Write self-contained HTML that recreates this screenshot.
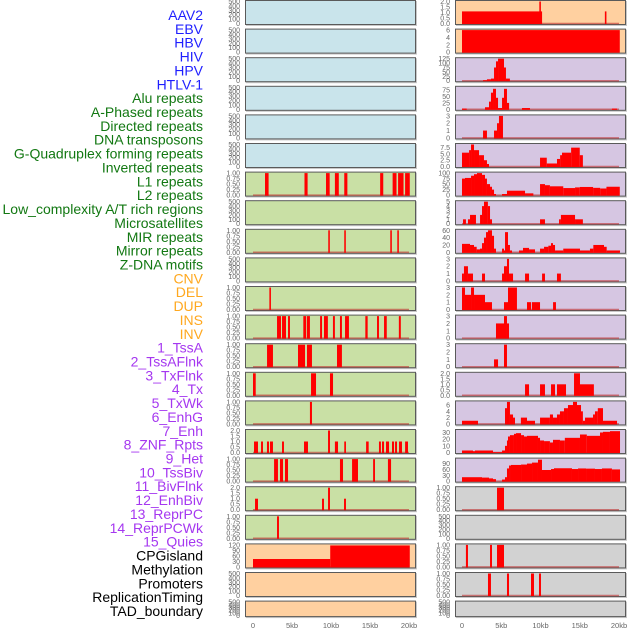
<!DOCTYPE html>
<html><head><meta charset="utf-8">
<style>
html,body{margin:0;padding:0;background:#fff;width:630px;height:630px;overflow:hidden}
svg{display:block;font-family:"Liberation Sans",sans-serif}
</style></head>
<body>
<svg id="chart" width="630" height="630" viewBox="0 0 630 630" xmlns="http://www.w3.org/2000/svg"></svg>
<script>
// ---------- data ----------
const trackLabels = ["AAV2","EBV","HBV","HIV","HPV","HTLV-1","Alu repeats","A-Phased repeats","Directed repeats","DNA transposons","G-Quadruplex forming repeats","Inverted repeats","L1 repeats","L2 repeats","Low_complexity A/T rich regions","Microsatellites","MIR repeats","Mirror repeats","Z-DNA motifs","CNV","DEL","DUP","INS","INV","1_TssA","2_TssAFlnk","3_TxFlnk","4_Tx","5_TxWk","6_EnhG","7_Enh","8_ZNF_Rpts","9_Het","10_TssBiv","11_BivFlnk","12_EnhBiv","13_ReprPC","14_ReprPCWk","15_Quies","CPGisland","Methylation","Promoters","ReplicationTiming","TAD_boundary"];
const labelGroups = [6,13,5,15,5];
const groupColors = ["#1f1fff","#127812","#ffa81f","#a537f0","#000000"];

const xTicks = [0,5,10,15,20];
const xTickLabels = ["0","5kb","10kb","15kb","20kb"];

const leftBg = ["b","b","b","b","b","b","g","g","g","g","g","g","g","g","g","g","g","g","g","o","o","o"];
const rightBg = ["o","o","p","p","p","p","p","p","p","p","p","p","p","p","p","p","p","y","y","y","y","y"];

const T500 = ["0","100","200","300","400","500"];
const T1 = ["0.00","0.25","0.50","0.75","1.00"];
const T2 = ["0.0","0.5","1.0","1.5","2.0"];
const leftMax = [500,500,500,500,500,500,1,500,1,500,1,1,1,1,1,2,1,2,1,120,500,500];
const leftTicks = [T500,T500,T500,T500,T500,T500,T1,T500,T1,T500,T1,T1,T1,T1,T1,T2,T1,T2,T1,["0","30","60","90","120"],T500,T500];
const rightMax = [2,6,125,86,3,8.75,100,5,60,3,3,3,3,2,7,33,113,1,500,1,1,500];
const rightTicks = [T2,["0","2","4","6"],["0","25","50","75","100","125"],["0","25","50","75"],["0","1","2","3"],["0.0","2.5","5.0","7.5"],["0","25","50","75","100"],["0","1","2","3","4","5"],["0","20","40","60"],["0","1","2","3"],["0","1","2","3"],["0","1","2","3"],["0","1","2","3"],T2,["0","2","4","6"],["0","10","20","30"],["0","30","60","90"],T1,T500,T1,T1,T500];

// segments: [startKb, endKb, value]
const leftSegs = [
 [],[],[],[],[],[],
 [[1.54,2.0,1],[6.6,7.0,1],[9.36,9.83,1],[10.5,11.0,1],[11.7,12.1,1],[16.3,16.7,1],[17.9,18.4,1],[18.6,19.3,1],[19.5,20.1,1]],
 [],
 [[9.65,9.85,1],[11.7,11.9,1],[17.6,17.8,1],[18.5,18.7,1]],
 [],
 [[2.1,2.3,1]],
 [[3.08,3.59,1],[3.72,4.23,1],[4.49,4.74,1],[6.45,6.8,1],[6.9,7.3,1],[8.6,8.85,1],[9.1,9.6,1],[10.25,10.5,1],[11.15,11.4,1],[11.8,12.3,1],[14.4,14.7,1],[15.9,16.15,1],[16.8,17.15,1],[18.7,18.95,1]],
 [[1.8,2.56,1],[5.77,6.67,1],[6.92,7.56,1],[10.77,11.4,1]],
 [[0,0.35,1],[7.44,8.08,1],[9.87,10.26,1]],
 [[7.3,7.56,1]],
 [[0.13,0.64,1],[1.03,1.28,1],[1.79,2.05,1],[2.18,2.56,1],[3.72,3.97,1],[6.54,7.05,1],[9.62,9.87,2],[10.5,10.9,1],[11.7,11.92,1],[14.5,14.83,1],[16.15,16.4,1],[16.54,16.8,1],[17.05,17.44,1],[17.82,18.08,1],[18.21,18.46,1],[18.72,19.1,1],[19.5,19.87,1]],
 [[2.7,3.2,1],[3.46,3.85,1],[4.1,4.49,1],[11.15,11.54,1],[12.7,13.46,1],[15.4,15.64,1],[17.3,17.7,1]],
 [[0.26,0.64,1],[8.85,9.1,1],[9.62,9.87,2],[11.67,11.92,1]],
 [[3.08,3.33,1]],
 [[0,9.9,43],[9.9,20.1,117]],
 [],[]
];
const rightSegs = [
 [[0,10.2,1.1],[9.85,10.05,2],[18.2,18.4,1.1]],
 [[0,20.1,6]],
 [[2.68,3.18,3],[3.18,3.69,8],[3.69,4.08,12],[4.08,4.33,75],[4.33,4.59,110],[4.59,5.35,125],[5.35,5.6,75],[5.6,6.1,12]],
 [[0,0.6,3],[2.93,3.44,8],[3.44,3.69,30],[3.69,3.95,65],[3.95,4.33,80],[4.33,4.59,45],[4.59,5.1,5],[5.1,5.35,45],[5.35,5.73,80],[5.73,6.0,25],[7.64,8.66,5],[19.1,19.75,3]],
 [[2.68,3.18,1],[4.08,4.46,1],[4.46,4.71,2],[4.71,5.22,3]],
 [[0,0.9,5.5],[0.9,1.15,6.5],[1.15,1.53,9],[1.53,2.17,6.5],[2.17,2.8,4.5],[2.8,3.18,2.5],[3.18,3.44,1],[9.94,10.8,3.5],[10.8,12.1,1.2],[12.1,12.5,3],[12.5,12.74,4.5],[12.74,13.9,5.5],[13.9,15.0,7.5],[15.0,15.4,4.5]],
 [[0,0.38,75],[0.38,1.15,78],[1.15,1.53,88],[1.53,1.91,95],[1.91,2.55,100],[2.55,2.93,92],[2.93,3.18,75],[3.18,3.57,50],[3.57,3.82,38],[3.82,4.08,25],[4.08,4.33,5],[5.1,5.73,5],[5.73,8.03,20],[8.03,9.09,8],[9.94,10.57,50],[10.57,11.2,45],[11.2,12.9,40],[12.9,14.4,32],[14.4,15.0,35],[15.0,16.7,37],[16.7,17.6,33],[17.6,18.4,30],[18.4,20.1,38]],
 [[0.13,0.5,1],[0.76,1.02,1],[1.02,1.78,2],[2.3,2.55,2],[2.55,2.8,4],[2.8,3.3,5],[3.3,3.57,4],[3.57,3.82,1],[9.94,10.57,1],[12.36,12.6,1],[12.6,14.4,2],[14.4,15.4,1]],
 [[0,1.02,23],[1.02,1.53,20],[1.53,1.87,15],[1.87,2.29,8],[2.29,2.55,10],[2.55,2.8,25],[2.8,3.06,40],[3.06,3.31,55],[3.31,3.82,60],[3.82,4.08,45],[4.08,4.33,10],[5.1,5.35,10],[5.35,5.48,5],[5.48,5.86,55],[5.86,6.11,20],[6.11,6.37,5],[7.26,7.77,5],[7.77,8.54,12],[8.54,9.3,8],[9.94,10.45,10],[10.45,11.0,15],[11.0,11.34,18],[11.34,11.59,25],[11.59,11.85,20],[11.85,12.9,5],[12.9,15.03,10],[15.03,16.3,5],[16.3,16.73,10],[16.73,18.09,20],[18.09,18.43,15],[18.43,20.13,5]],
 [[0,0.25,1],[0.25,0.76,2],[0.76,1.4,1],[2.55,2.93,1],[5.1,5.35,1],[5.35,5.73,2],[5.73,5.99,3],[5.99,6.5,1],[8.03,8.54,1],[10.2,10.57,1],[12.1,12.6,1]],
 [[0,0.38,3],[0.38,1.15,2],[1.15,1.53,3],[1.53,2.93,2],[2.93,3.82,1],[5.35,5.86,1],[5.86,7.0,3],[8.28,8.79,1],[8.9,9.94,1],[11.6,11.97,1]],
 [[4.33,5.35,2],[5.35,5.73,3],[5.73,5.99,2]],
 [[4.08,4.59,1],[5.35,5.73,3]],
 [[8.03,8.54,1],[9.94,10.57,1],[11.34,11.85,1],[12.1,13.25,1],[14.27,15.03,2],[15.03,16.8,1]],
 [[0,2.04,1],[5.48,5.73,5],[5.73,6.11,7],[6.11,6.5,3],[6.5,6.75,2],[7.5,8.28,2],[8.28,9.3,1],[9.94,11.2,2],[11.2,11.59,3],[11.59,12.1,2],[12.1,12.48,3],[12.48,12.99,4],[12.99,13.5,5],[13.5,14.14,6],[14.14,14.65,7],[14.65,15.16,6],[15.16,15.4,4],[15.4,15.67,1],[15.67,16.69,2],[16.69,16.94,3],[16.94,17.3,4],[17.3,17.96,5],[17.96,19.75,1]],
 [[0,1.4,3],[1.4,1.65,2],[1.65,3.95,3],[3.95,5.1,0.5],[5.1,5.48,3],[5.48,5.73,10],[5.73,5.86,18],[5.86,6.11,24],[6.11,6.62,26],[6.62,6.88,28],[6.88,7.52,29],[7.52,7.9,26],[7.9,8.28,24],[8.28,9.68,25],[9.68,9.94,22],[9.94,10.45,18],[10.45,11.2,17],[11.2,11.59,15],[11.59,12.48,19],[12.48,13.1,18],[13.1,15.03,22],[15.03,15.9,27],[15.9,17.58,25],[17.58,17.96,30],[17.96,18.85,31],[18.85,20.13,32]],
 [[0,2.55,20],[2.55,3.44,18],[3.44,3.95,14],[3.95,4.33,10],[5.1,5.48,8],[5.48,5.73,20],[5.73,5.99,65],[5.99,6.24,80],[6.24,7.52,83],[7.52,8.28,85],[8.28,8.92,90],[8.92,9.68,95],[9.68,10.19,110],[10.19,11.34,57],[11.34,11.72,62],[11.72,14.01,66],[14.01,14.78,62],[14.78,15.8,65],[15.8,16.94,64],[16.94,17.83,62],[17.83,19.1,65],[19.1,20.13,60]],
 [[4.46,5.35,1]],
 [],
 [[0.5,0.76,1],[3.57,3.82,1],[4.46,5.35,1]],
 [[3.31,3.69,1],[5.73,5.99,1],[8.79,9.17,1],[9.81,10.06,1]],
 []
];

// ---------- drawing ----------
const NS = "http://www.w3.org/2000/svg";
const svg = document.getElementById("chart");
const bgColors = {b:"#c9e4eb",g:"#c9e0a5",o:"#ffd0a0",p:"#d6c6e2",y:"#d2d2d2"};
function mk(tag, attrs, parent){const e=document.createElementNS(NS,tag);for(const k in attrs)e.setAttribute(k,attrs[k]);(parent||svg).appendChild(e);return e;}

// labels
let li=0;
labelGroups.forEach((n,g)=>{for(let k=0;k<n;k++){
  const t=mk("text",{x:203,y:15+li*13.86+5,"text-anchor":"end","font-size":"14",fill:groupColors[g]});
  t.textContent=trackLabels[li];
  
  
  li++;}});

function rowTop(i){return i*28.6;}
function rowH(i){return i===21?16.5:25;}

function drawCol(px, zeroX, pxPerKb, bgs, maxes, ticks, segs, tickX, colName){
  const xs = kb => zeroX + kb*pxPerKb;
  for(let i=0;i<22;i++){
    const T=rowTop(i), H=rowH(i);
    const g=mk("g",{});
    
    
    mk("rect",{x:px+1,y:T+1,width:171,height:H,fill:"#c8c8c8"},g);
    mk("rect",{x:px+0.5,y:T+0.5,width:170,height:H-1,fill:bgColors[bgs[i]],stroke:"#5a5a5a","stroke-width":1},g);
    const zero=T+H-1.5, top=T+1.5, ymax=maxes[i];
    const ys = v => zero - v/ymax*(zero-top);
    ticks[i].forEach(s=>{
      const v=parseFloat(s);
      const t=mk("text",{x:tickX,y:ys(v)+2.5,"text-anchor":"end","font-size":"7",fill:"#666"},g);
      t.textContent=s;
      
      
    });
    if(segs[i].length){
      mk("line",{x1:xs(0),x2:xs(20),y1:zero,y2:zero,stroke:"#c03030","stroke-opacity":0.6,"stroke-width":1.5},g);
    }
    segs[i].forEach(s=>{
      const y=ys(Math.min(s[2],ymax));
      const r=mk("rect",{x:xs(s[0]),y:y,width:Math.max(1.5,xs(s[1])-xs(s[0])),height:zero-y+0.5,fill:"#ff0000"},g);
      
      
    });
  }
  xTicks.forEach((kb,j)=>{
    const t=mk("text",{x:xs(kb),y:628,"text-anchor":"middle","font-size":"7.5",fill:"#666"});
    t.textContent=xTickLabels[j];
    
    
  });
}
drawCol(245,253,7.8,leftBg,leftMax,leftTicks,leftSegs,240,"left");
drawCol(455,462,7.85,rightBg,rightMax,rightTicks,rightSegs,450,"right");
</script>
</body></html>
